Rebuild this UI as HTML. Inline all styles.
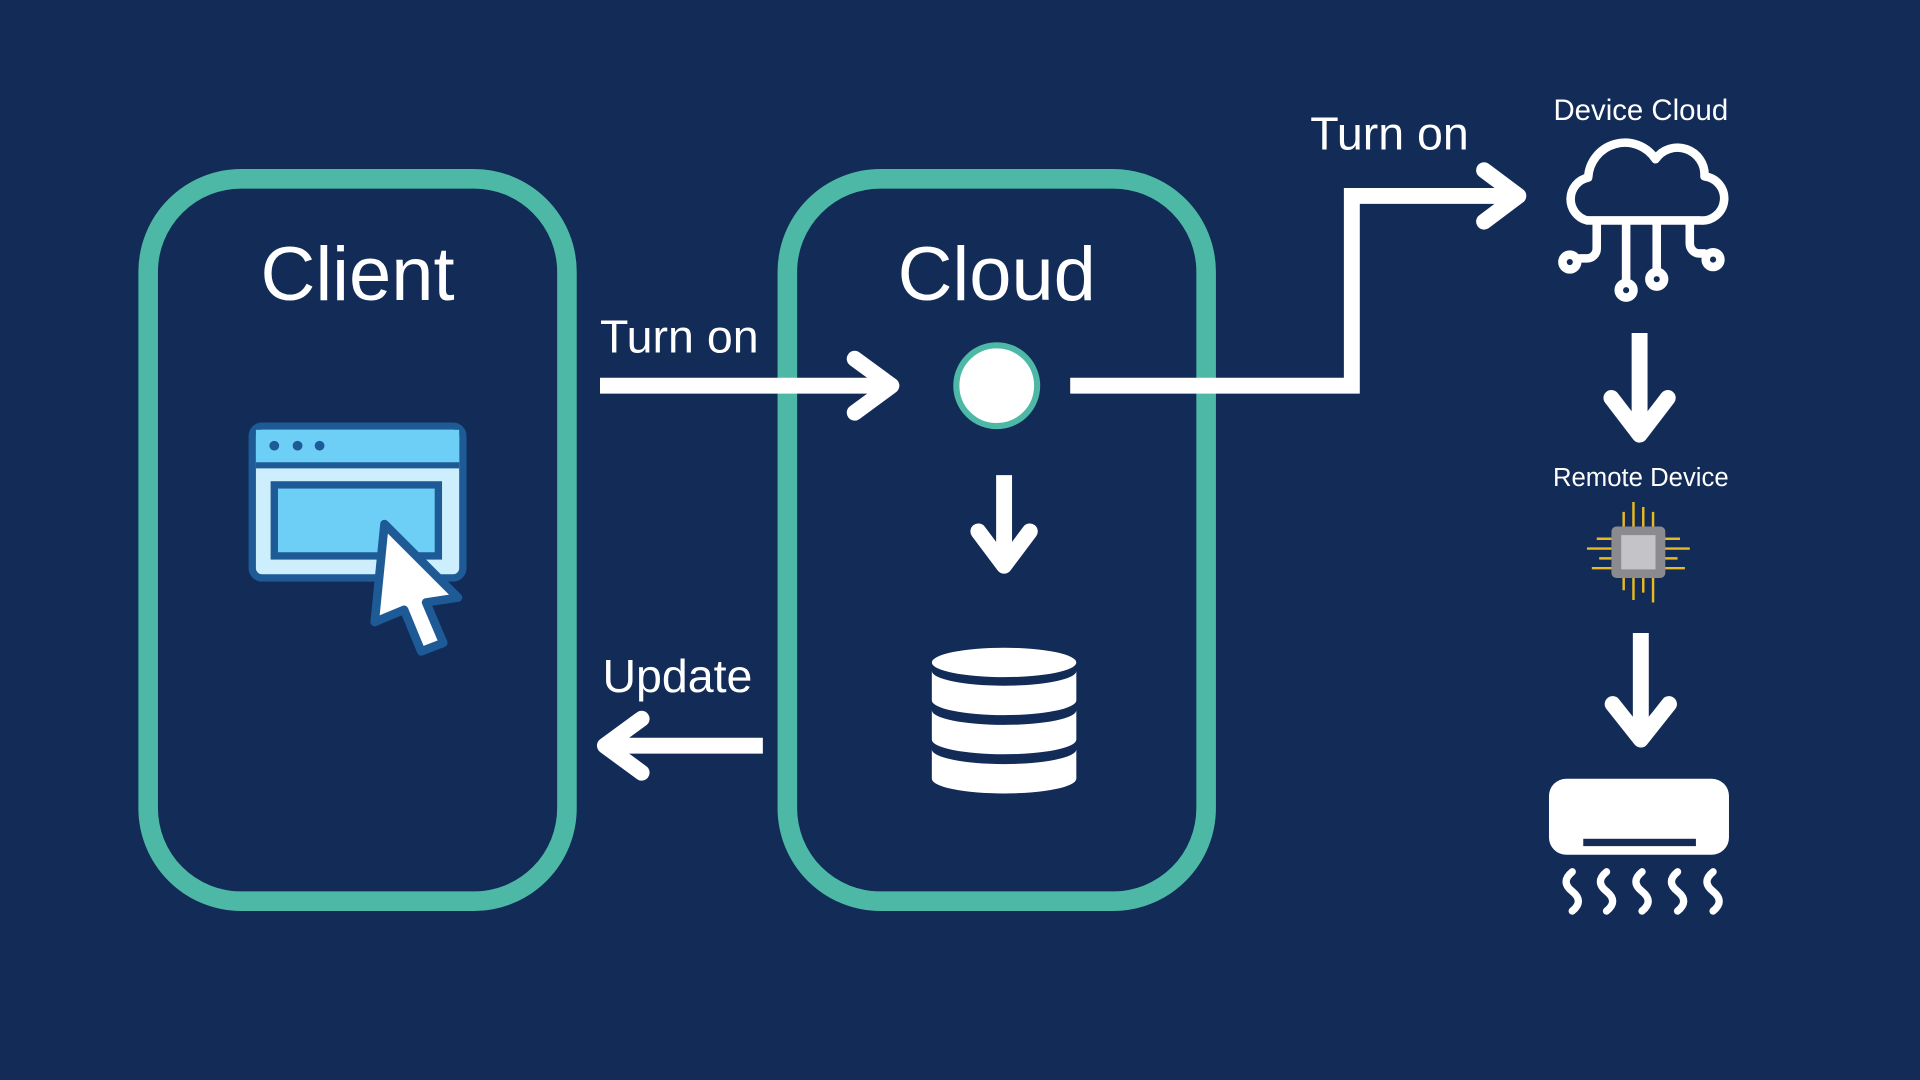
<!DOCTYPE html>
<html><head><meta charset="utf-8"><style>
html,body{margin:0;padding:0;background:#122b57;overflow:hidden}
svg{display:block}
text{font-family:"Liberation Sans",sans-serif;fill:#fff}
</style></head><body>
<svg width="1920" height="1080" viewBox="0 0 1568 882" xmlns="http://www.w3.org/2000/svg">
<rect width="1568" height="882" fill="#122b57"/>
<rect x="121" y="146" width="342" height="590" rx="76" fill="none" stroke="#4db8a5" stroke-width="16"/>
<rect x="643" y="146" width="342" height="590" rx="76" fill="none" stroke="#4db8a5" stroke-width="16"/>
<text x="292" y="245" font-size="62" text-anchor="middle">Client</text>
<text x="814" y="245" font-size="62" text-anchor="middle">Cloud</text>
<rect x="206" y="348" width="172" height="124" rx="8" fill="#cdeefc" stroke="#1d5a96" stroke-width="6"/>
<rect x="209" y="351" width="166" height="27" fill="#6dcff6"/>
<line x1="209" y1="380" x2="375" y2="380" stroke="#1d5a96" stroke-width="5"/>
<circle cx="224" cy="364" r="4" fill="#1d5a96"/><circle cx="243" cy="364" r="4" fill="#1d5a96"/><circle cx="261" cy="364" r="4" fill="#1d5a96"/>
<rect x="224" y="396" width="134" height="58" fill="#6dcff6" stroke="#1d5a96" stroke-width="6"/>
<path d="M314 428 L306 508 L330 498 L344 532 L362 525 L348 492 L374 488 Z" fill="#fff" stroke="#1d5a96" stroke-width="7" stroke-linejoin="round"/>
<text x="490" y="288" font-size="38">Turn on</text>
<g stroke="#fff" stroke-width="13" fill="none" stroke-linecap="round" stroke-linejoin="round">
<line x1="490" y1="315" x2="728" y2="315" stroke-linecap="butt"/>
<polyline points="698,293 728,315 698,337"/>
<polyline points="874,315 1104,315 1104,160 1240,160" stroke-linecap="butt" stroke-linejoin="miter"/>
<polyline points="1212,139 1240,160 1212,181"/>
<line x1="820" y1="388" x2="820" y2="460" stroke-linecap="butt"/>
<polyline points="799,434 820,462 841,434"/>
<line x1="623" y1="609" x2="494" y2="609" stroke-linecap="butt"/>
<polyline points="524,587 494,609 524,631"/>
<line x1="1339" y1="272" x2="1339" y2="354" stroke-linecap="butt"/>
<polyline points="1316,325 1339,355 1362,325"/>
<line x1="1340" y1="517" x2="1340" y2="602" stroke-linecap="butt"/>
<polyline points="1317,575 1340,604 1363,575"/>
</g>
<circle cx="814" cy="315" r="33" fill="#fff" stroke="#4db8a5" stroke-width="5"/>
<text x="1070" y="122" font-size="38">Turn on</text>
<text x="492" y="565" font-size="38">Update</text>
<!-- database -->
<g fill="#fff">
<ellipse cx="820" cy="541" rx="59" ry="12"/>
<path d="M761 548 a59 12 0 0 0 118 0 v24 a59 12 0 0 1 -118 0 z"/>
<path d="M761 580 a59 12 0 0 0 118 0 v24 a59 12 0 0 1 -118 0 z"/>
<path d="M761 612 a59 12 0 0 0 118 0 v24 a59 12 0 0 1 -118 0 z"/>
</g>
<text x="1340" y="98" font-size="24" text-anchor="middle">Device Cloud</text>
<g stroke="#fff" stroke-width="7" fill="none" stroke-linecap="round" stroke-linejoin="round">
<path d="M1296 180 h92 a18 18 0 0 0 4 -36 a22 22 0 0 0 -40 -14 a30 30 0 0 0 -55 15 a18 18 0 0 0 -1 35 z"/>
<path d="M1304 183 v20 a8 8 0 0 1 -8 8 h-6"/>
<circle cx="1282" cy="214" r="6"/>
<line x1="1328" y1="183" x2="1328" y2="230"/><circle cx="1328" cy="237" r="6"/>
<line x1="1353" y1="183" x2="1353" y2="222"/><circle cx="1353" cy="228" r="6"/>
<path d="M1380 183 v16 a8 8 0 0 0 8 8 h4"/><circle cx="1399" cy="212" r="6"/>
</g>
<text x="1340" y="397" font-size="21" text-anchor="middle">Remote Device</text>
<g stroke="#e8b923" stroke-width="2" fill="none">
<path d="M1326 430 v-12 M1334 430 v-20 M1342 430 v-16 M1350 430 v-12 M1326 470 v12 M1334 470 v20 M1342 470 v14 M1350 470 v22 M1318 440 h-14 M1318 448 h-22 M1318 456 h-12 M1318 464 h-18 M1358 440 h14 M1358 448 h22 M1358 456 h12 M1358 464 h18"/>
</g>
<rect x="1316" y="430" width="44" height="42" rx="4" fill="#8a8a8f"/>
<rect x="1324" y="437" width="28" height="28" fill="#c4c4c8"/>
<rect x="1265" y="636" width="147" height="62" rx="14" fill="#fff"/>
<rect x="1293" y="685" width="92" height="6" fill="#122b57"/>
<g stroke="#fff" stroke-width="6" fill="none" stroke-linecap="round">
<path d="M1284 712 q-10 8 0 16 q10 8 0 16"/>
<path d="M1312 712 q-10 8 0 16 q10 8 0 16"/>
<path d="M1341 712 q-10 8 0 16 q10 8 0 16"/>
<path d="M1370 712 q-10 8 0 16 q10 8 0 16"/>
<path d="M1399 712 q-10 8 0 16 q10 8 0 16"/>
</g>
</svg>
</body></html>
